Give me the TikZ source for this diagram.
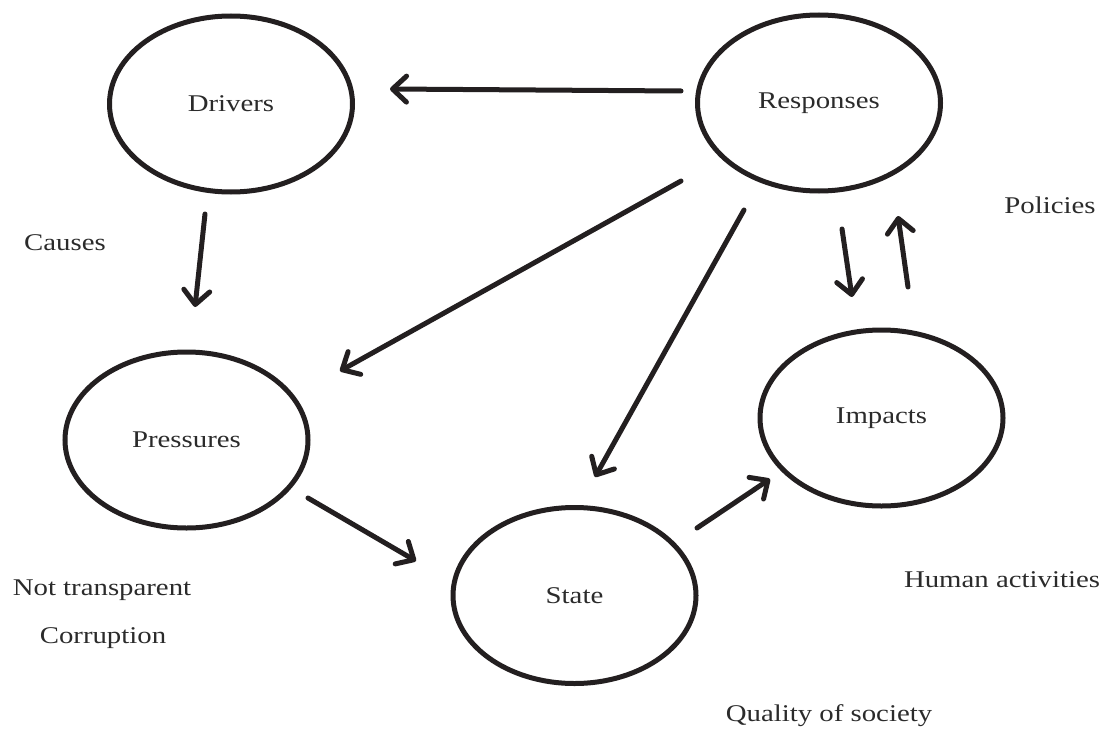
\documentclass[tikz,border=0pt]{standalone}
\usepackage{fontspec}
\setmainfont[FakeStretch=1.2]{Liberation Serif}
\usetikzlibrary{shapes.geometric,arrows.meta}
\definecolor{ink}{HTML}{231F20}
\definecolor{txt}{HTML}{2B2B2B}
\begin{document}
\begin{tikzpicture}[x=1pt,y=-1pt,
  every node/.style={text=txt,font=\fontsize{24}{28}\selectfont},
  oval/.style={ellipse,draw=ink,line width=5pt,inner sep=0pt,
    minimum width=243pt,minimum height=176pt},
  flow/.style={draw=ink,line width=5pt,line cap=round,line join=round,
    -{Straight Barb[length=14pt,width=26pt,line cap=round,line join=round]}}]
\useasboundingbox (0,0) rectangle (1105,733);
% the five DPSIR ovals
\node[oval] (drivers) at (231,104) {Drivers};
\node[oval] (resp) at (819,103) {Responses};
\node[oval] (press) at (186.5,440) {Pressures};
\node[oval] (impacts) at (881.5,418) {Impacts};
\node[oval] (state) at (574.5,595.5) {State};
% side notes
\node (causes) at (65,243) {Causes};
\node (policies) at (1050,205) {Policies};
\node (nottr) at (102,590) {Not transparent};
\node (corr) at (103,638) {Corruption};
\node (human) at (1002,580) {Human activities};
\node (quality) at (829,716) {Quality of society};
% arrows between the ovals
\draw[flow] ([shift={(-138,-12)}]resp.center) -- ([shift={(159,-15)}]drivers.center);
\draw[flow] ([shift={(-26,110)}]drivers.center) -- ([shift={(8.5,-133)}]press.center);
\draw[flow] ([shift={(-138,78)}]resp.center) -- ([shift={(153.5,-69)}]press.center);
\draw[flow] ([shift={(-75,107)}]resp.center) -- ([shift={(20.5,-118.5)}]state.center);
\draw[flow] ([shift={(23,126)}]resp.center) -- ([shift={(-29.5,-121)}]impacts.center);
\draw[flow] ([shift={(26.5,-131)}]impacts.center) -- ([shift={(79,113)}]resp.center);
\draw[flow] ([shift={(121.5,58)}]press.center) -- ([shift={(-158.5,-34.5)}]state.center);
\draw[flow] ([shift={(122.5,-67.5)}]state.center) -- ([shift={(-111.5,61)}]impacts.center);
\end{tikzpicture}
\end{document}
